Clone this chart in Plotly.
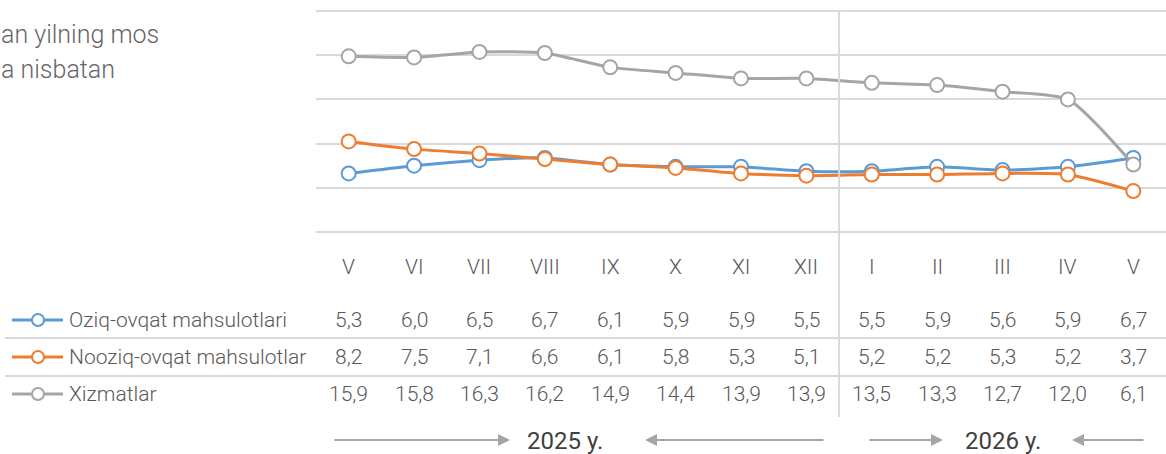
import plotly.graph_objects as go

W, H = 1166, 454

months = ["V", "VI", "VII", "VIII", "IX", "X", "XI", "XII", "I", "II", "III", "IV", "V"]
series_names = ["Oziq-ovqat mahsulotlari", "Nooziq-ovqat mahsulotlar", "Xizmatlar"]
oziq = [5.3, 6.0, 6.5, 6.7, 6.1, 5.9, 5.9, 5.5, 5.5, 5.9, 5.6, 5.9, 6.7]
nooziq = [8.2, 7.5, 7.1, 6.6, 6.1, 5.8, 5.3, 5.1, 5.2, 5.2, 5.3, 5.2, 3.7]
xizmat = [15.9, 15.8, 16.3, 16.2, 14.9, 14.4, 13.9, 13.9, 13.5, 13.3, 12.7, 12.0, 6.1]
colors = ["#5B9BD5", "#ED7D31", "#A5A5A5"]
years = ["2025 y.", "2026 y."]
title_lines = ["an yilning mos", "a nisbatan"]

values = [oziq, nooziq, xizmat]
idx = list(range(len(months)))

FONT = "Roboto"
TXT = "#595959"


def px(x):
    return x / W


def py(y):
    return 1 - y / H


fig = go.Figure()
for name, vals, col in zip(series_names, values, colors):
    fig.add_trace(go.Scatter(
        x=idx, y=vals, name=name, mode="lines+markers",
        line=dict(color=col, width=3, shape="spline", smoothing=0.6),
        marker=dict(symbol="circle", size=14, color="white",
                    line=dict(color=col, width=2)),
        showlegend=False, hoverinfo="skip",
    ))

annotations = []
shapes = []

# Category labels
for i, m in enumerate(months):
    annotations.append(dict(x=i, y=py(267), xref="x", yref="paper", text=m,
                            showarrow=False, font=dict(family=FONT, size=21, color=TXT, weight=300),
                            xanchor="center", yanchor="middle"))

# Table rows
row_y = [320, 357, 394]
for r, (name, vals, col) in enumerate(zip(series_names, values, colors)):
    yy = py(row_y[r])
    for i, v in enumerate(vals):
        annotations.append(dict(x=i, y=yy, xref="x", yref="paper",
                                text=f"{v:.1f}".replace(".", ","), showarrow=False,
                                font=dict(family=FONT, size=21, color=TXT, weight=300),
                                xanchor="center", yanchor="middle"))
    annotations.append(dict(x=px(67), y=yy, xref="paper", yref="paper", text=name,
                            showarrow=False, font=dict(family=FONT, size=21, color=TXT, weight=300),
                            xanchor="left", yanchor="middle"))
    shapes.append(dict(type="line", xref="paper", yref="paper", x0=px(12), x1=px(63),
                       y0=yy, y1=yy, line=dict(color=col, width=3)))
    shapes.append(dict(type="circle", xref="paper", yref="paper",
                       x0=px(32), x1=px(44), y0=py(row_y[r] - 6), y1=py(row_y[r] + 6),
                       fillcolor="white", line=dict(color=col, width=2)))

# Table separators
for sy in [338, 376]:
    shapes.append(dict(type="line", xref="paper", yref="paper", x0=px(5), x1=1,
                       y0=py(sy), y1=py(sy), line=dict(color="#D9D9D9", width=2)))

# Vertical year separator
shapes.append(dict(type="line", xref="x", yref="paper", x0=7.5, x1=7.5,
                   y0=py(417), y1=py(10), line=dict(color="#D9D9D9", width=2)))

# Title fragment
for t, ty in zip(title_lines, [34, 70]):
    annotations.append(dict(x=px(-1), y=py(ty), xref="paper", yref="paper", text=t,
                            showarrow=False, font=dict(family=FONT, size=25, color="#666666", weight=300),
                            xanchor="left", yanchor="middle"))

# Year labels with arrows
for t, cx in zip(years, [565, 1003]):
    annotations.append(dict(x=px(cx), y=py(441), xref="paper", yref="paper", text=t,
                            showarrow=False, font=dict(family=FONT, size=24, color="#404040"),
                            xanchor="center", yanchor="middle"))

arrows = [(333, 510), (825, 645), (868, 943), (1145, 1072)]
for tail, head in arrows:
    annotations.append(dict(x=px(head), y=py(440), xref="paper", yref="paper",
                            ax=tail - head, ay=0, axref="pixel", ayref="pixel",
                            text="", showarrow=True, arrowhead=2, arrowsize=1.2,
                            arrowwidth=2, arrowcolor="#A5A5A5"))

# y: 0 at 232px, 20 at 11px -> 11.05 px/unit; pad range by 0.4 units
fig.update_layout(
    width=W, height=H,
    margin=dict(l=0, r=0, t=0, b=0),
    paper_bgcolor="white", plot_bgcolor="white",
    xaxis=dict(domain=[px(316), 1], range=[-0.5, 12.5], showticklabels=False,
               showgrid=False, zeroline=False, fixedrange=True),
    yaxis=dict(domain=[py(236.4), py(6.6)], range=[-0.4, 20.4], dtick=4, tick0=0,
               showticklabels=False, showgrid=True, gridcolor="#D9D9D9", gridwidth=1.5,
               zeroline=False, fixedrange=True),
    annotations=annotations, shapes=shapes,
    showlegend=False,
)

fig.write_html("out.html", config={"displayModeBar": False},
               post_script="document.body.style.margin='0';document.body.style.overflow='hidden';")
